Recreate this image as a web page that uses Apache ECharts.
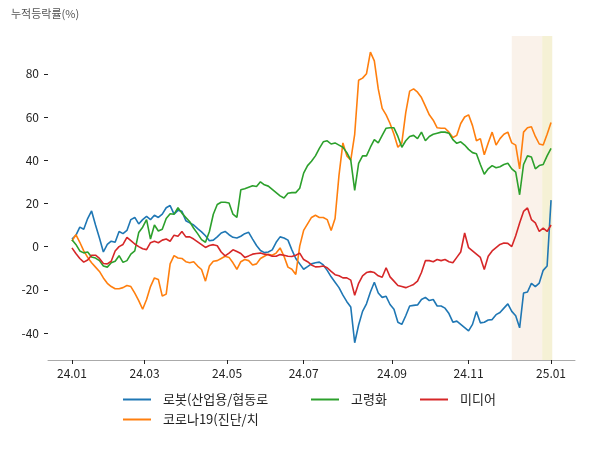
<!DOCTYPE html>
<html><head><meta charset="utf-8">
<script src="https://cdn.jsdelivr.net/npm/echarts@6/dist/echarts.min.js"></script>
<style>html,body{margin:0;padding:0;background:#fff}#c{width:600px;height:450px}</style>
</head><body><div id="c"></div>
<script>
// trading-day index step between consecutive readings
const STEP = 2;
const seriesNames = ['로봇(산업용/협동로', '코로나19(진단/치', '고령화', '미디어'];
const robot = [3.5,5.2,9,8,13,16.5,10,4,-2.5,1,2.5,2,7,6,7.5,12.5,13.5,10.5,12.5,14,12.5,14.5,13.5,15,18,19,15,16.8,16.3,12,11,10,8.3,6.8,5,2.7,3,4.5,6.3,7,5.5,4.3,4,4.8,6,6.6,3.5,0.5,-1.8,-2.8,-2.5,-1.5,2,4.5,4,3,-1.5,-5.5,-8,-10.5,-9.3,-8,-7.5,-7.2,-8.5,-11,-14,-16.5,-19,-22.5,-25.5,-28,-44.5,-36.3,-30,-26.5,-21,-16.5,-21.5,-23.5,-23,-26.8,-29,-35,-36,-32,-27.5,-27.2,-27,-24.5,-23.5,-25,-24.5,-27.5,-27.5,-28.5,-31,-35,-34.5,-36,-37.5,-39,-36,-30,-35.3,-35,-34,-33.8,-31.5,-30.5,-28.5,-26.5,-30,-32,-37.6,-21.5,-21,-17,-18.5,-16.9,-11,-9,21.5];
const corona = [2.5,5.5,2,-2,-5,-7.5,-9.5,-11.5,-14.5,-17,-18.5,-19.5,-19.5,-19,-18,-18.5,-21.5,-25,-29,-24.5,-18.5,-14.5,-15.2,-22.9,-22,-8,-4.2,-5.3,-5.5,-7,-7.5,-7,-9,-10.6,-16,-9,-6.8,-6.5,-5.5,-4.5,-5,-7.5,-10.5,-7,-6,-6.5,-8.5,-8,-5.5,-4.5,-3.5,-4,-3,-0.6,-4.5,-9.5,-10.5,-12.9,0.2,7.5,10.5,13.5,14.5,13.5,13.5,12.5,7.5,13,33,48,42,40,52,77,78,80,90,86,73,64,61,57,52,46,48,62,72,73,71.5,69,65,61,58.5,55,54.8,54.8,53,50.5,51.5,57,60,61,56,49,50,42.5,48,53,47,50,52,53,48,47,36,53,55,55.5,51,47.5,47,52,57.5];
const aging = [3.2,1,-2,-2.9,-2.5,-4.8,-5.3,-6.5,-9,-9.5,-7.5,-6.8,-4.2,-7.3,-6.5,-3.5,-2,6.5,9,12.5,3.5,10,7.2,8,13,15.2,15,18,15.5,13.5,11.5,8.5,6,3.2,2,7,15,19.5,20.5,20.5,20.2,15,13.5,26.3,26.8,27.5,28.2,27.8,30,28.6,28,26.5,25,23.5,22.5,24.7,25,25,27,34,37.5,39.5,42,45.5,48.5,49,47.5,48,47,46,43.5,40,26,38.5,42,42,46,49.5,48,51.5,54.8,55,55,51,46,49,51,51.5,50,53,49,51,52,52.5,53,53,52.5,49.5,47.8,48.5,47,45,43.5,43,38,33.5,36,37.5,36.5,37,38,38.6,36,34.5,24,38,42,41.5,36,37.5,38,42,45.5];
const media = [-0.6,-3.2,-5.5,-7.2,-6.2,-4,-4,-5.5,-7.8,-8,-6.8,-2,0,1,4.3,2.8,1.2,0,-1,-1.4,1.8,2.5,1.8,3,3.5,2.5,5.3,4.8,7,4.5,4.5,3.5,2.2,0.9,-0.4,0.5,0.9,0.4,-2.5,-4.3,-3,-1.5,-2.3,-3.2,-5,-4.3,-3.5,-3.2,-3,-3.5,-3.8,-4.5,-4.5,-3.7,-4,-4.5,-4.6,-4,-3,-6,-7,-8.5,-9.4,-9.3,-9,-9.8,-11.5,-13,-13.5,-14.5,-14.5,-15.5,-22.5,-17,-13.5,-12,-11.6,-12,-13.5,-14.2,-9.8,-14,-16,-18,-18.5,-19,-18.3,-17.5,-16,-12,-6.5,-6.5,-7,-6,-6.5,-6,-7,-7.5,-5,-2.5,6.3,-0.5,-2,-3.5,-5,-10.6,-4.5,-2,-0.5,1,1.7,1.5,0,5,10.9,16.3,17.9,12.5,11,7,8.5,7,10];
const xTickLabels = ['24.01','24.03','24.05','24.07','24.09','24.11','25.01'];
const xTickPos = [0,37,79,118,163,202,244];
const yTicks = [-40,-20,0,20,40,60,80];
const bandStarts = [224, 239.5];
const bandEnds = [239.5, 244.6];

const colors = ['#1f77b4','#ff7f0e','#2ca02c','#d62728'];
const FONT = '"Noto Sans CJK KR", "Noto Sans", sans-serif';
const allValues = [robot, corona, aging, media];
const lastIdx = (robot.length - 1) * STEP;
const bandColors = ['rgba(240,215,190,0.33)', 'rgba(230,220,150,0.4)'];

const chart = echarts.init(document.getElementById('c'), null, {renderer:'canvas'});
const series = allValues.map((vals, k) => ({
  name: seriesNames[k], type: 'line', showSymbol: false, symbol: 'none',
  data: vals.map((v, i) => [i * STEP, v]),
  lineStyle: {width: 1.6, color: colors[k]}, itemStyle: {color: colors[k]},
  z: 3 + k, animation: false,
  markArea: k === 0 ? {
    silent: true,
    data: bandStarts.map((s, j) => [{xAxis: s, itemStyle: {color: bandColors[j]}}, {xAxis: bandEnds[j]}])
  } : undefined
}));
const legendBase = {
  orient: 'vertical', icon: 'rect', itemWidth: 28, itemHeight: 2, itemGap: 7, padding: 0,
  textStyle: {fontSize: 13, color: '#222', fontFamily: FONT, padding: [0,0,0,7]}
};
chart.setOption({
  animation: false,
  title: {text: '누적등락률(%)', left: 11, top: 8, padding: 0, textStyle: {fontSize: 11, fontWeight: 'normal', color: '#555', fontFamily: FONT}},
  grid: {left: 48, right: 25, top: 36, bottom: 90},
  xAxis: {
    type: 'value', min: -0.05 * lastIdx, max: lastIdx * 1.05,
    splitLine: {show: false},
    axisLine: {show: true, onZero: false, lineStyle: {color: '#aaa', width: 1}},
    axisTick: {show: true, length: 4, customValues: xTickPos, lineStyle: {color: '#222'}},
    axisLabel: {customValues: xTickPos, margin: 7, fontSize: 12, color: '#222', fontFamily: FONT,
      formatter: v => xTickLabels[xTickPos.indexOf(v)] || ''}
  },
  yAxis: {
    type: 'value', min: -52.5, max: 97.5,
    splitLine: {show: false},
    axisLine: {show: false, onZero: false},
    axisTick: {show: true, length: 4, customValues: yTicks, lineStyle: {color: '#222'}},
    axisLabel: {customValues: yTicks, margin: 9, fontSize: 12, color: '#222', fontFamily: FONT}
  },
  legend: [
    Object.assign({left: 123, top: 393, data: [seriesNames[0], seriesNames[1]]}, legendBase),
    Object.assign({left: 311, top: 393, data: [seriesNames[2]]}, legendBase),
    Object.assign({left: 420, top: 393, data: [seriesNames[3]]}, legendBase)
  ],
  series: series
});
</script></body></html>
